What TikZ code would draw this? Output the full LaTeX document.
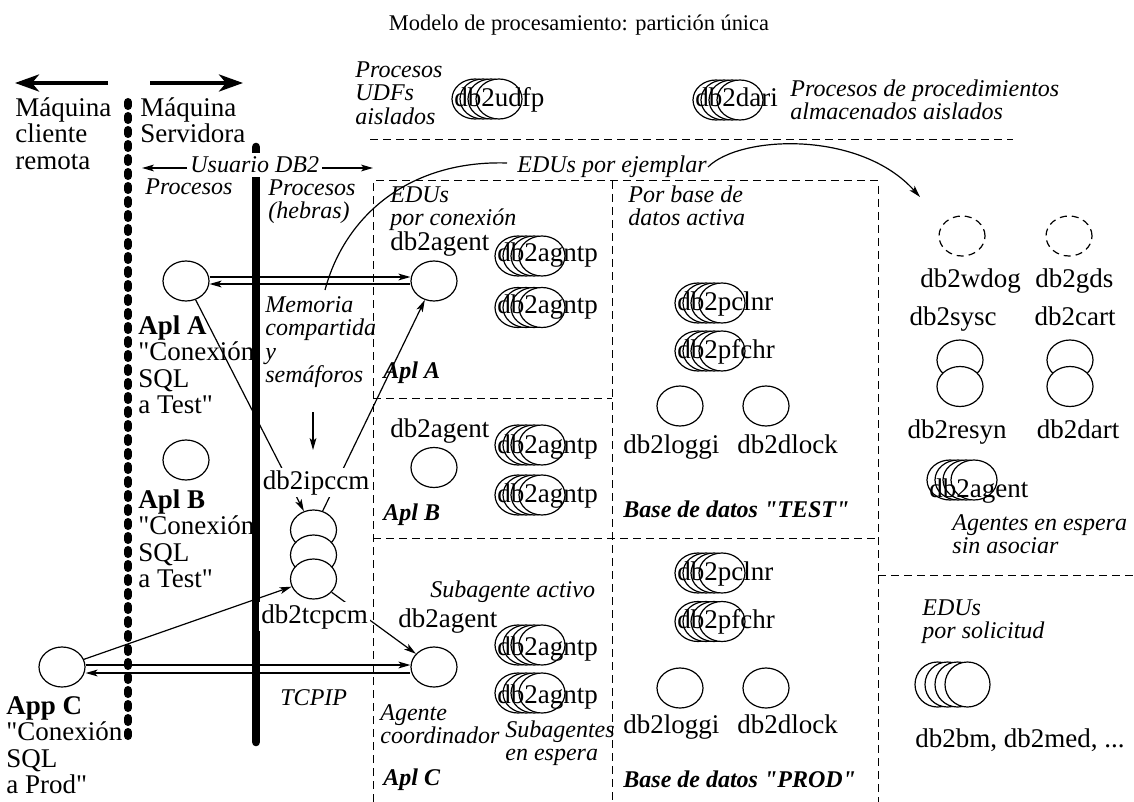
\documentclass[tikz,border=0pt]{standalone}
\usepackage{fontspec}
\setmainfont{Liberation Serif}[Ligatures=TeXOff]
\usetikzlibrary{shapes.geometric,arrows.meta,calc}
\setlength{\lineskiplimit}{-20pt}
\tikzset{
  ttl/.style={font=\fontsize{11.2}{13}\selectfont, inner sep=0pt},
  lbl/.style={font=\fontsize{13.5}{13.25}\selectfont, inner sep=0pt},
  ilbl/.style={font=\fontsize{12}{11.75}\selectfont\itshape, inner sep=0pt},
  bilbl/.style={font=\fontsize{12}{13}\selectfont\bfseries\itshape, inner sep=0pt},
  multi/.style={align=left, anchor=north west},
  proc/.style={draw, ellipse, minimum width=23pt, minimum height=20pt, inner sep=0pt, line width=0.6pt, fill=white},
  dproc/.style={proc, dash pattern=on 3.5pt off 2.5pt},
  sep/.style={dash pattern=on 4pt off 2.5pt, line width=0.5pt},
  conn/.style={line width=0.6pt, -{Stealth[length=6pt,width=3.4pt,inset=1.5pt]}},
  plain/.style={line width=0.6pt},
  bigarr/.style={line width=2pt, -{Stealth[length=12pt,width=8.5pt,inset=3.5pt]}},
  dotbar/.style={line width=4pt, line cap=round, dash pattern=on 2pt off 5pt},
  solidbar/.style={line width=4.3pt, line cap=round},
  wlbl/.style={lbl, fill=white, inner sep=1pt}
}
\newcommand\EllStack[5]{%
  \foreach \k in {0,1,2,3} {\node[proc] (#1-\k) at ({#2+23+8*\k},#3) {};}
  \node[lbl, anchor=base west] (#1) at ({#2+2},#4) {#5};
}
\newcommand\tstrut{\rule{0pt}{10pt}}
\begin{document}
\begin{tikzpicture}[x=0.5pt,y=-0.5pt]
\useasboundingbox (0,0) rectangle (1134,802);
\fill[white] (0,0) rectangle (1134,802);

% title
\node[ttl, anchor=base] (title) at (579,31) {Modelo de procesamiento: partición única};

% dashed separators
\draw[sep] (370,140) -- (1013,140);
\draw[sep] (373,802) -- (373,181) -- (878,181) -- (878,802);
\draw[sep] (612,181) -- (612,802);
\draw[sep] (373,398) -- (612,398);
\draw[sep] (373,538) -- (878,538);
\draw[sep] (878,575) -- (1134,575);

% machine boundaries
\coordinate (dotT) at (128,102);
\coordinate (dotB) at (128,740);
\draw[dotbar] (dotT) -- (dotB);
\coordinate (barT) at (256,147);
\coordinate (barB) at (256,742);
\draw[solidbar] (barT) -- (barB);

\coordinate (la1) at (108,83);
\coordinate (la2) at (15,83);
\coordinate (ra1) at (150,83);
\coordinate (ra2) at (243,83);
\draw[bigarr] (la1) -- (la2);
\draw[bigarr] (ra1) -- (ra2);

% left texts
\node[lbl, multi] (cli) at (15,96) {\tstrut Máquina\\cliente\\remota};
\node[lbl, multi] (srv) at (140,96) {\tstrut Máquina\\Servidora};
\node[ilbl, anchor=base west, fill=white, inner xsep=1pt, inner ysep=2pt] (usr) at (188,173) {Usuario DB2};
\coordinate (usrL) at (142,168);
\coordinate (usrR) at (373,168);
\draw[conn] ($(usr.west|-usrL)+(-1,0)$) -- (usrL);
\draw[conn] ($(usr.east|-usrR)+(1,0)$) -- (usrR);
\node[ilbl, anchor=base west] (proc1) at (145,195) {Procesos};
\node[ilbl, multi] (proc2) at (268,175) {\tstrut Procesos\\(hebras)};

\node[lbl, multi] (aplAt) at (138,314) {\tstrut\textbf{Apl A}\\"Conexión\\SQL\\a Test"};
\node[lbl, multi] (aplBt) at (138,488) {\tstrut\textbf{Apl B}\\"Conexión\\SQL\\a Test"};
\node[lbl, multi] (appCt) at (6,694) {\tstrut\textbf{App C}\\"Conexión\\SQL\\a Prod"};

\node[ilbl, multi] (mem) at (265,292) {\tstrut Memoria\\compartida\\y\\semáforos};
\coordinate (m1) at (313,412);
\coordinate (m2) at (313,450);
\draw[conn] (m1) -- (m2);
\node[ilbl, anchor=base west] (tcpip) at (280,705) {TCPIP};

% top texts
\node[ilbl, multi] (udft) at (355,57) {\tstrut Procesos\\UDFs\\aislados};
\EllStack{udfp}{452}{99}{107}{db2udfp}
\EllStack{dari}{693}{100}{107}{db2dari}
\node[ilbl, multi] (darit) at (790,76) {\tstrut Procesos de procedimientos\\almacenados aislados};
\node[ilbl, anchor=base west] (ejem) at (517,173) {EDUs por ejemplar};
\coordinate (memtop) at (325,290);
\coordinate (ejl) at (507,163);
\coordinate (ejr) at (708,167);
\coordinate (ejtip) at (920,197);
\draw[plain] (memtop) .. controls (345,215) and (410,160) .. (ejl);
\draw[conn] (ejr) .. controls (740,135) and (860,130) .. (ejtip);

% client circles
\node[proc] (ApA) at (186,281) {};
\node[proc] (ApB) at (186,460) {};
\node[proc] (AppC) at (62,667) {};

% ipc / tcp stack
\node[proc] (ipc1) at (313.5,530) {};
\node[proc] (ipc2) at (313.5,555) {};
\node[proc] (ipc3) at (313.5,579) {};

% Apl A box
\node[ilbl, multi] (eduA) at (390,182) {\tstrut EDUs\\por conexión};
\node[lbl, anchor=base west] (agAt) at (390,250) {db2agent};
\node[proc] (AgA) at (434,281) {};
\EllStack{ntpA1}{495}{256}{262}{db2agntp}
\EllStack{ntpA2}{495}{307.5}{313}{db2agntp}
\node[bilbl, anchor=base west] (aplA) at (383,378) {Apl A};

% Apl B box
\node[lbl, anchor=base west] (agBt) at (390,437) {db2agent};
\node[proc] (AgB) at (434,467.5) {};
\EllStack{ntpB1}{495}{445}{453}{db2agntp}
\EllStack{ntpB2}{495}{495}{502}{db2agntp}
\node[bilbl, anchor=base west] (aplB) at (383,520) {Apl B};

% Apl C box
\node[ilbl, anchor=base west] (subact) at (430,597) {Subagente activo};
\node[lbl, anchor=base west] (agCt) at (398,627) {db2agent};
\node[proc] (AgC) at (434,667) {};
\EllStack{ntpC1}{495}{645}{655}{db2agntp}
\EllStack{ntpC2}{495}{693}{703}{db2agntp}
\node[ilbl, multi] (coord) at (380,700) {\tstrut Agente\\coordinador};
\node[ilbl, multi] (subesp) at (505,717) {\tstrut Subagentes\\en espera};
\node[bilbl, anchor=base west] (aplC) at (383,785) {Apl C};

% TEST database
\node[ilbl, multi] (pbd) at (628,182) {\tstrut Por base de\\datos activa};
\EllStack{pclT}{675}{303}{310}{db2pclnr}
\EllStack{pfcT}{675}{351}{358}{db2pfchr}
\node[proc] (logT) at (680,406) {};
\node[proc] (dlkT) at (766,406) {};
\node[lbl, anchor=base west] (logTt) at (623,453) {db2loggi};
\node[lbl, anchor=base west] (dlkTt) at (737,453) {db2dlock};
\node[bilbl, anchor=base west] (bdT) at (623,517) {Base de datos "TEST"};

% PROD database
\EllStack{pclP}{675}{573}{580}{db2pclnr}
\EllStack{pfcP}{675}{621.5}{628}{db2pfchr}
\node[proc] (logP) at (680,688) {};
\node[proc] (dlkP) at (766,688) {};
\node[lbl, anchor=base west] (logPt) at (623,733) {db2loggi};
\node[lbl, anchor=base west] (dlkPt) at (737,733) {db2dlock};
\node[bilbl, anchor=base west] (bdP) at (623,787) {Base de datos "PROD"};

% instance EDUs
\node[dproc] (wdog) at (962,236) {};
\node[dproc] (gds) at (1069,236) {};
\node[lbl, anchor=base west] (wdogt) at (920,287) {db2wdog};
\node[lbl, anchor=base west] (gdst) at (1035,287) {db2gds};
\node[lbl, anchor=base] (sysct) at (953,325) {db2sysc};
\node[lbl, anchor=base] (cartt) at (1075,325) {db2cart};
\node[proc] (sysc) at (960,360) {};
\node[proc] (resyn) at (960,386.5) {};
\node[proc] (cart) at (1070,360) {};
\node[proc] (dart) at (1070,386.5) {};
\node[lbl, anchor=base] (resynt) at (957,438) {db2resyn};
\node[lbl, anchor=base] (dartt) at (1078,438) {db2dart};
\EllStack{agR}{927}{480}{497}{db2agent}
\node[ilbl, multi] (agesp) at (952,510) {\tstrut Agentes en espera\\sin asociar};

% per request EDUs
\node[ilbl, multi] (edusol) at (922,595) {\tstrut EDUs\\por solicitud};
\foreach \k in {0,1,2,3} {\node[proc, minimum width=22.5pt, minimum height=22.5pt] (bm-\k) at ({937.5+10*\k},684.5) {};}
\node[lbl, anchor=base west] (bmt) at (915,747) {db2bm, db2med, ...};

% connectors
\draw[conn] ([yshift=2pt]ApA.east) -- ([yshift=2pt]AgA.west);
\draw[conn] ([yshift=-1.5pt]AgA.west) -- ([yshift=-1.5pt]ApA.east);
\draw[conn] ([yshift=1pt]AppC.east) -- ([yshift=1pt]AgC.west);
\draw[conn] ([yshift=-3pt]AgC.west) -- ([yshift=-3pt]AppC.east);
\draw[conn] (ApA) -- (ipc1);
\draw[conn] (ipc1) -- (AgA);
\draw[conn] (AppC) -- (ipc3);
\draw[conn] (ipc3) -- (AgC);

\node[wlbl, anchor=base] (ipcl) at (316,489) {db2ipccm};
\node[wlbl, anchor=base] (tcpl) at (314.5,623) {db2tcpcm};
\end{tikzpicture}
\end{document}
